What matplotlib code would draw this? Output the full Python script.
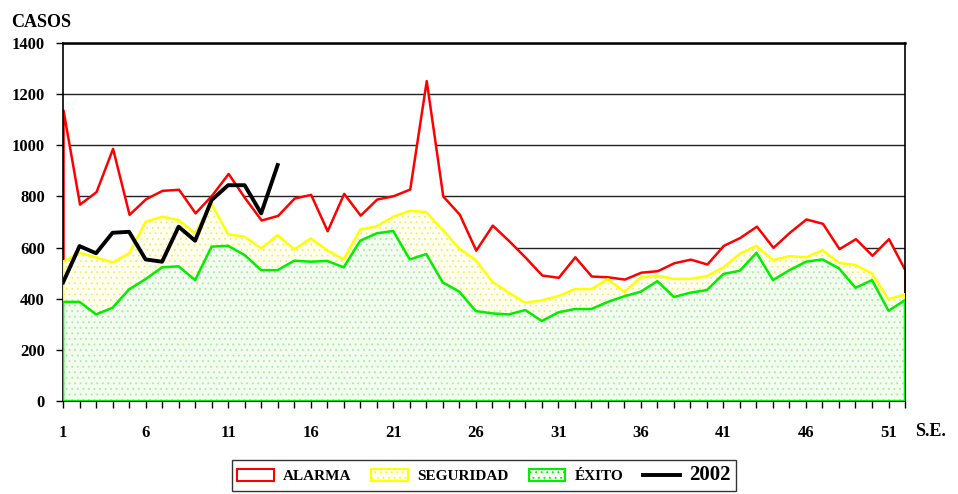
import matplotlib
matplotlib.use("Agg")
import matplotlib.pyplot as plt
from matplotlib.ticker import MultipleLocator, FixedLocator
from matplotlib.patches import Patch
from matplotlib.lines import Line2D

# semanas epidemiológicas
weeks = list(range(1, 53))

# canal endémico: zonas
alarma = [1138, 770, 819, 988, 730, 791, 824, 828, 736, 805,
          890, 795, 708, 726, 794, 808, 666, 812, 727, 790,
          803, 829, 1253, 802, 731, 590, 688, 627, 562, 493,
          484, 564, 489, 486, 477, 504, 510, 541, 555, 536,
          609, 640, 684, 601, 660, 712, 695, 596, 635, 570,
          635, 512]
seguridad = [545, 580, 562, 542, 578, 701, 721, 708, 656, 770,
             652, 643, 597, 649, 593, 636, 590, 554, 671, 684,
             721, 744, 739, 669, 597, 551, 467, 424, 385, 394,
             411, 438, 438, 477, 427, 484, 490, 478, 478, 489,
             523, 577, 607, 551, 567, 562, 590, 541, 532, 499,
             398, 418]
exito = [388, 388, 339, 365, 437, 477, 523, 527, 473, 604,
         607, 571, 512, 512, 549, 545, 548, 523, 627, 656,
         665, 554, 575, 464, 428, 352, 343, 339, 356, 313,
         347, 360, 360, 388, 410, 428, 469, 407, 424, 434,
         497, 510, 580, 473, 512, 545, 554, 519, 443, 473,
         353, 395]

# casos 2002
weeks_2002 = list(range(1, 15))
casos_2002 = [464, 606, 578, 658, 662, 554, 545, 682, 627, 786,
              844, 844, 734, 923]

plt.rcParams['font.family'] = ['Liberation Serif', 'DejaVu Serif']
plt.rcParams['font.weight'] = 'bold'
plt.rcParams['hatch.linewidth'] = 0.6

fig = plt.figure(figsize=(9.58, 4.94), dpi=100)
ax = fig.add_axes([0.0658, 0.188, 0.8789, 0.725])

# alarma: relleno blanco, borde rojo
ax.fill_between(weeks, 0, alarma, facecolor='white', edgecolor='#ff0000',
                linewidth=1.8, zorder=2)
# seguridad: punteado amarillo claro
ax.fill_between(weeks, 0, seguridad, facecolor='#fffff0', edgecolor='#f0ec70',
                hatch='...', linewidth=0, zorder=3)
ax.fill_between(weeks, 0, seguridad, facecolor='none', edgecolor='#ffff00',
                linewidth=1.8, zorder=3)
# éxito: punteado verde claro
ax.fill_between(weeks, 0, exito, facecolor='#f2fdf0', edgecolor='#a8eaa0',
                hatch='...', linewidth=0, zorder=4)
ax.fill_between(weeks, 0, exito, facecolor='none', edgecolor='#00ee00',
                linewidth=1.8, zorder=4)
ax.plot(weeks_2002, casos_2002, color='black', linewidth=2.8, zorder=5)

ax.set_xlim(1, 52)
ax.set_ylim(0, 1400)
ax.yaxis.set_major_locator(MultipleLocator(200))
ax.xaxis.set_major_locator(FixedLocator(list(range(1, 52, 5))))
ax.xaxis.set_minor_locator(FixedLocator(weeks))

ax.set_axisbelow(True)
ax.yaxis.grid(True, color='#222222', linewidth=1.0)

for s in ax.spines.values():
    s.set_color('black')
    s.set_linewidth(1.2)
ax.spines['top'].set_linewidth(1.8)

ax.tick_params(axis='y', direction='out', length=5, width=1, pad=8,
               labelsize=12)
ax.tick_params(axis='x', which='both', direction='out', length=5, width=1,
               pad=12, labelsize=12)
ax.tick_params(axis='x', which='minor', labelbottom=False)
for lab in ax.get_xticklabels() + ax.get_yticklabels():
    lab.set_fontweight('bold')

fig.text(0.012, 0.955, 'CASOS', fontsize=13, fontweight='bold',
         ha='left', va='center')
fig.text(0.955, 0.126, 'S.E.', fontsize=13, fontweight='bold',
         ha='left', va='center')

handles = [
    Patch(facecolor='white', edgecolor='#ff0000', linewidth=1.5),
    Patch(facecolor='#fffff0', edgecolor='#ffff00', hatch='...', linewidth=1.5),
    Patch(facecolor='#f2fdf0', edgecolor='#00ee00', hatch='...', linewidth=1.5),
    Line2D([0], [0], color='black', linewidth=2.8),
]
labels = ['ALARMA', 'SEGURIDAD', 'ÉXITO', '2002']
leg = fig.legend(handles, labels, loc='center', bbox_to_anchor=(0.505, 0.038),
                 ncol=4, frameon=True, fancybox=False, shadow=False,
                 prop={'weight': 'bold', 'size': 11},
                 handlelength=2.4, handleheight=0.85, handletextpad=0.6,
                 columnspacing=1.3, borderpad=0.35)
leg.get_frame().set_edgecolor('black')
leg.get_frame().set_linewidth(1.0)
leg.get_texts()[3].set_fontsize(15)

fig.savefig('out.png', dpi=100)
